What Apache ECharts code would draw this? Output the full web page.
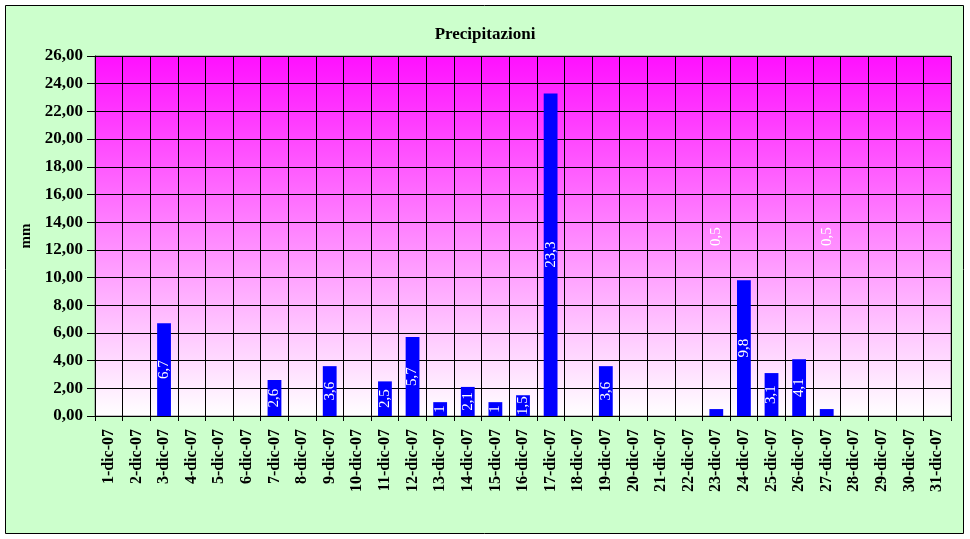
<!DOCTYPE html>
<html><head><meta charset="utf-8">
<script src="https://cdn.jsdelivr.net/npm/echarts@6/dist/echarts.min.js"></script>
<style>html,body{margin:0;padding:0;background:#fff}#c{width:970px;height:539px}</style>
</head><body><div id="c"></div>
<script>
const days = [];
for (let d = 1; d <= 31; d++) days.push(d + '-dic-07');
const values = [null,null,6.7,null,null,null,2.6,null,3.6,null,2.5,5.7,1,2.1,1,1.5,23.3,null,3.6,null,null,null,0.5,9.8,3.1,4.1,0.5,null,null,null,null];
const yTicks = {min:0, max:26, interval:2};

const serif = '"Liberation Serif", "DejaVu Serif", serif';
const data = values.map(v => {
  if (v === null) return '-';
  if (v < 1) return {value: v, label: {offset: [176, 0]}};
  return v;
});
const chart = echarts.init(document.getElementById('c'));
chart.setOption({
  animation: false,
  backgroundColor: '#ffffff',
  graphic: [{type:'rect', z:-10, silent:true, shape:{x:5.5,y:5.5,width:958,height:528}, style:{fill:'#CCFFCC', stroke:'#000', lineWidth:1}}],
  title: {text:'Precipitazioni', left:'center', top:21, textStyle:{fontFamily:serif, fontWeight:'bold', fontSize:17, color:'#000'}},
  grid: {left:95, right:19, top:56, bottom:123, show:true, borderColor:'#808080', borderWidth:1,
    backgroundColor: new echarts.graphic.LinearGradient(0,0,0,1,[{offset:0,color:'#FF10FF'},{offset:1,color:'#FFFFFF'}])},
  xAxis: {type:'category', data:days, boundaryGap:true,
    axisLine:{lineStyle:{color:'#000'}},
    axisTick:{show:true, alignWithLabel:false, length:5, lineStyle:{color:'#000'}},
    splitLine:{show:true, lineStyle:{color:'#000', width:1}},
    axisLabel:{rotate:90, interval:0, fontFamily:serif, fontWeight:'bold', fontSize:16, color:'#000', margin:13}},
  yAxis: {type:'value', min:yTicks.min, max:yTicks.max, interval:yTicks.interval,
    name:'mm', nameLocation:'middle', nameGap:60, nameTextStyle:{fontFamily:serif, fontWeight:'bold', fontSize:15, color:'#000'},
    axisLine:{show:true, lineStyle:{color:'#000'}},
    axisTick:{show:true, length:8, lineStyle:{color:'#000'}},
    splitLine:{show:true, lineStyle:{color:'#000', width:1}},
    axisLabel:{fontFamily:serif, fontWeight:'bold', fontSize:17, color:'#000', margin:12,
      formatter: v => v.toFixed(2).replace('.', ',')}},
  series: [{type:'bar', data:data, barWidth:'50%', itemStyle:{color:'#0000FF'},
    label:{show:true, position:'inside', rotate:90, color:'#fff', fontFamily:serif, fontSize:15,
      formatter: p => String(p.value).replace('.', ',')}}]
});
</script></body></html>
